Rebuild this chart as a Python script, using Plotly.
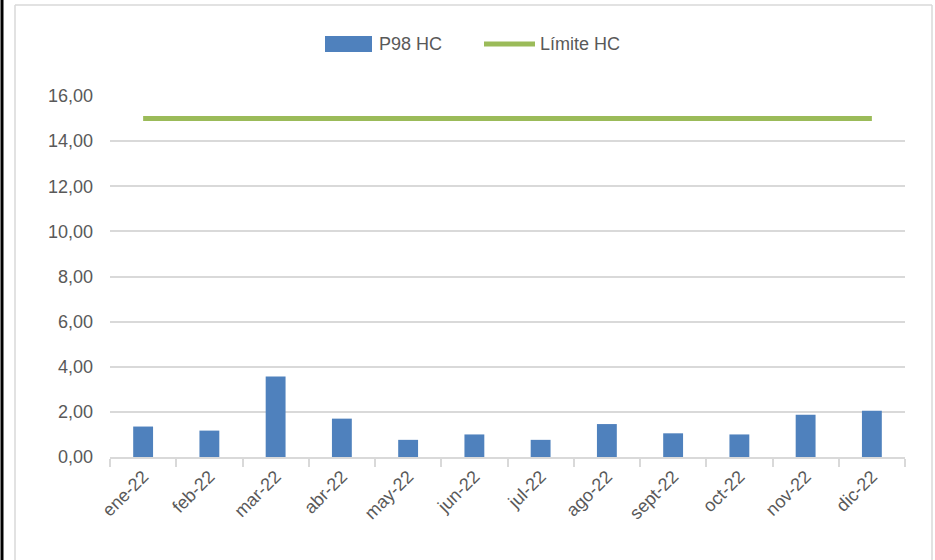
import plotly.graph_objects as go

months = ["ene-22", "feb-22", "mar-22", "abr-22", "may-22", "jun-22",
          "jul-22", "ago-22", "sept-22", "oct-22", "nov-22", "dic-22"]
p98_hc = [1.35, 1.17, 3.57, 1.70, 0.76, 1.00, 0.76, 1.46, 1.05, 1.00, 1.87, 2.05]
limite_hc = [15] * 12

FONT = "Liberation Sans, Arial"
GRAY_TXT = "#595959"
GRID = "#d9d9d9"
BLUE = "#4f81bd"
GREEN = "#9bbb59"

fig = go.Figure()
fig.add_trace(go.Bar(x=months, y=p98_hc, name="P98 HC",
                     marker=dict(color=BLUE, line=dict(width=0)),
                     width=0.3))
fig.add_trace(go.Scatter(x=months, y=limite_hc, name="Límite HC", mode="lines",
                         line=dict(color=GREEN, width=5)))

L, R, T, B = 110, 935 - 905, 96, 560 - 457
pw, ph = 905 - 110, 457 - 96


def px(x):
    return (x - L) / pw


def py(y):
    return (457 - y) / ph


shapes = [
    dict(type="line", xref="paper", yref="paper", x0=px(2), x1=px(2), y0=py(-5), y1=py(565),
         line=dict(color="black", width=3)),
    dict(type="line", xref="paper", yref="paper", x0=px(15), x1=px(15), y0=py(5), y1=py(565),
         line=dict(color=GRID, width=1.5)),
    dict(type="line", xref="paper", yref="paper", x0=px(15), x1=px(932), y0=py(5), y1=py(5),
         line=dict(color=GRID, width=1.5)),
    dict(type="line", xref="paper", yref="paper", x0=px(932), x1=px(932), y0=py(5), y1=py(565),
         line=dict(color=GRID, width=1.5)),
    # legend swatches
    dict(type="rect", xref="paper", yref="paper", x0=px(325), x1=px(372), y0=py(52), y1=py(36),
         fillcolor=BLUE, line=dict(width=0)),
    dict(type="line", xref="paper", yref="paper", x0=px(484), x1=px(535), y0=py(44), y1=py(44),
         line=dict(color=GREEN, width=5)),
]

annotations = [
    dict(xref="paper", yref="paper", x=px(377), y=py(44), xanchor="left", yanchor="middle",
         text="P98 HC", showarrow=False, font=dict(family=FONT, size=18, color=GRAY_TXT)),
    dict(xref="paper", yref="paper", x=px(538), y=py(44), xanchor="left", yanchor="middle",
         text="Límite HC", showarrow=False, font=dict(family=FONT, size=18, color=GRAY_TXT)),
]

fig.update_layout(
    width=935, height=560,
    margin=dict(l=L, r=R, t=T, b=B),
    paper_bgcolor="white", plot_bgcolor="white",
    separators=",.",
    font=dict(family=FONT, size=18, color=GRAY_TXT),
    showlegend=False,
    shapes=shapes,
    annotations=annotations,
    bargap=0.7,
)
fig.update_xaxes(type="category", showgrid=False, showline=True, linecolor=GRID, linewidth=2,
                 ticks="outside", tickson="boundaries", ticklen=8, tickcolor=GRID, tickwidth=2,
                 tickangle=-45, tickfont=dict(family=FONT, size=18, color=GRAY_TXT))
fig.update_yaxes(range=[0, 16], dtick=2, tickformat=".2f", showgrid=True, gridcolor=GRID,
                 gridwidth=2, zeroline=False, showline=False, ticks="", ticklabelstandoff=16,
                 tickfont=dict(family=FONT, size=18, color=GRAY_TXT))

fig.write_html("out.html", config={"displayModeBar": False},
               post_script="document.body.style.margin='0';")
